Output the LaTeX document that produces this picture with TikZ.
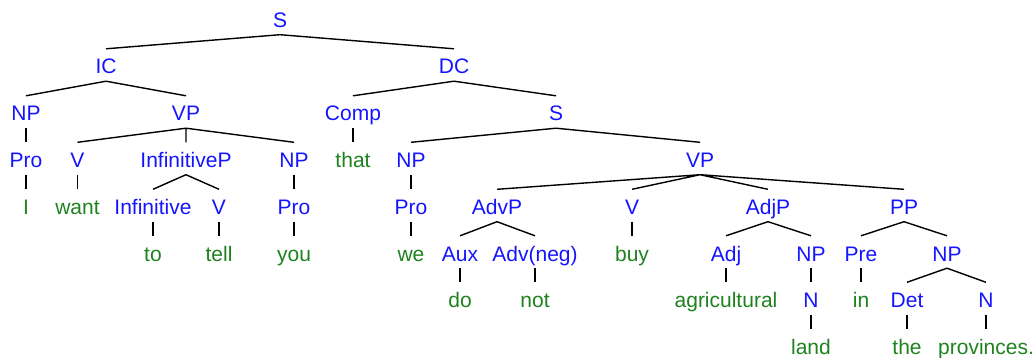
\documentclass[tikz,border=0pt]{standalone}
\usepackage{fontspec}
\setmainfont{Liberation Sans}
\definecolor{catblue}{RGB}{20,20,255}
\definecolor{wordgreen}{RGB}{30,130,30}
\tikzset{
  cat/.style={anchor=base, inner sep=0pt, text height=25pt, text depth=7pt, text=catblue, font=\fontsize{21}{25}\selectfont},
  word/.style={cat, text=wordgreen},
  link/.style={draw=black, line width=1.4pt}
}
\begin{document}
\begin{tikzpicture}[x=1pt,y=-1pt]
\useasboundingbox (0,0) rectangle (1035,358);
% row 0
\node[cat] (S) at (280,27.5) {S};
% row 1
\node[cat] (IC) at (106,74) {IC};
\node[cat] (DC) at (454,74) {DC};
% row 2
\node[cat] (NP1) at (26,121) {NP};
\node[cat] (VP1) at (186,121) {VP};
\node[cat] (Comp) at (353,121) {Comp};
\node[cat] (S2) at (556,121) {S};
% row 3
\node[cat] (Pro1) at (26,167.5) {Pro};
\node[cat] (V1) at (77.5,167.5) {V};
\node[cat] (InfP) at (186,167.5) {InfinitiveP};
\node[cat] (NP2) at (294,167.5) {NP};
\node[word] (that) at (353,167.5) {that};
\node[cat] (NP3) at (411,167.5) {NP};
\node[cat] (VP2) at (700,167.5) {VP};
% row 4
\node[word] (I) at (26,214.5) {I};
\node[word] (want) at (77.5,214.5) {want};
\node[cat] (Inf) at (153,214.5) {Infinitive};
\node[cat] (V2) at (219,214.5) {V};
\node[cat] (Pro2) at (294,214.5) {Pro};
\node[cat] (Pro3) at (411,214.5) {Pro};
\node[cat] (AdvP) at (497,214.5) {AdvP};
\node[cat] (V3) at (632,214.5) {V};
\node[cat] (AdjP) at (768,214.5) {AdjP};
\node[cat] (PP) at (904,214.5) {PP};
% row 5
\node[word] (to) at (153,261) {to};
\node[word] (tell) at (219,261) {tell};
\node[word] (you) at (294,261) {you};
\node[word] (we) at (411,261) {we};
\node[cat] (Aux) at (460,261) {Aux};
\node[cat] (Advneg) at (535,261) {Adv(neg)};
\node[word] (buy) at (632,261) {buy};
\node[cat] (Adj) at (726,261) {Adj};
\node[cat] (NP4) at (811,261) {NP};
\node[cat] (Pre) at (861,261) {Pre};
\node[cat] (NP5) at (947,261) {NP};
% row 6
\node[word] (do) at (460,307.5) {do};
\node[word] (not) at (535,307.5) {not};
\node[word] (agri) at (726,307.5) {agricultural};
\node[cat] (N1) at (811,307.5) {N};
\node[word] (in) at (861,307.5) {in};
\node[cat] (Det) at (907,307.5) {Det};
\node[cat] (N2) at (986,307.5) {N};
% row 7
\node[word] (land) at (811,354) {land};
\node[word] (the) at (907,354) {the};
\node[word] (prov) at (986,354) {provinces.};
% links
\path[link] (S.south) -- (IC.north) (S.south) -- (DC.north);
\path[link] (IC.south) -- (NP1.north) (IC.south) -- (VP1.north);
\path[link] (DC.south) -- (Comp.north) (DC.south) -- (S2.north);
\path[link] (NP1.south) -- (Pro1.north);
\path[link] (VP1.south) -- (V1.north) (VP1.south) -- (InfP.north) (VP1.south) -- (NP2.north);
\path[link] (Comp.south) -- (that.north);
\path[link] (S2.south) -- (NP3.north) (S2.south) -- (VP2.north);
\path[link] (Pro1.south) -- (I.north);
\path[link] (V1.south) -- (want.north);
\path[link] (InfP.south) -- (Inf.north) (InfP.south) -- (V2.north);
\path[link] (NP2.south) -- (Pro2.north);
\path[link] (NP3.south) -- (Pro3.north);
\path[link] (VP2.south) -- (AdvP.north) (VP2.south) -- (V3.north) (VP2.south) -- (AdjP.north) (VP2.south) -- (PP.north);
\path[link] (Inf.south) -- (to.north);
\path[link] (V2.south) -- (tell.north);
\path[link] (Pro2.south) -- (you.north);
\path[link] (Pro3.south) -- (we.north);
\path[link] (AdvP.south) -- (Aux.north) (AdvP.south) -- (Advneg.north);
\path[link] (V3.south) -- (buy.north);
\path[link] (AdjP.south) -- (Adj.north) (AdjP.south) -- (NP4.north);
\path[link] (PP.south) -- (Pre.north) (PP.south) -- (NP5.north);
\path[link] (Aux.south) -- (do.north);
\path[link] (Advneg.south) -- (not.north);
\path[link] (Adj.south) -- (agri.north);
\path[link] (NP4.south) -- (N1.north);
\path[link] (Pre.south) -- (in.north);
\path[link] (NP5.south) -- (Det.north) (NP5.south) -- (N2.north);
\path[link] (N1.south) -- (land.north);
\path[link] (Det.south) -- (the.north);
\path[link] (N2.south) -- (prov.north);
\end{tikzpicture}
\end{document}
